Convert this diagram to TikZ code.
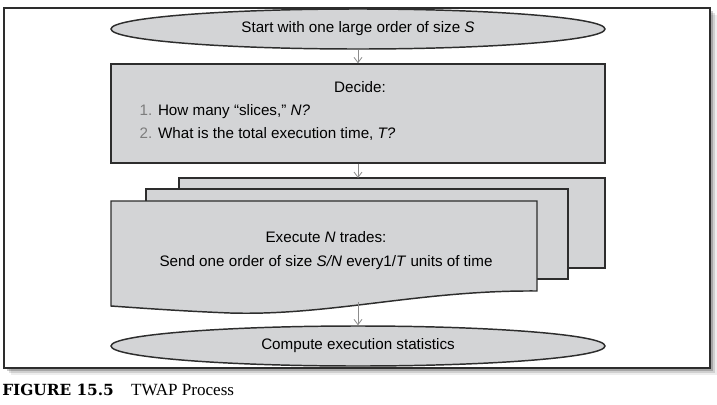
\documentclass[tikz,border=0pt]{standalone}
\usepackage{fontspec}
\setmainfont{Liberation Sans}
\newfontfamily\capserif{Liberation Serif}
\newfontfamily\capbold{DejaVu Serif}[BoldFont={DejaVu Serif Bold}]
\usetikzlibrary{shapes.geometric,arrows.meta}
\definecolor{boxgray}{RGB}{211,212,214}
\definecolor{linegray}{RGB}{45,45,45}
\definecolor{arrowgray}{RGB}{140,140,140}
\definecolor{numgray}{RGB}{125,125,125}

\begin{document}
\begin{tikzpicture}[x=0.75pt,y=-0.75pt,
  oval/.style={ellipse,draw=linegray,line width=1.1pt,fill=boxgray,
    minimum width=370.5pt,minimum height=30pt,inner sep=0pt},
  box/.style={draw=linegray,line width=1.1pt,fill=boxgray},
  flow/.style={draw=arrowgray,line width=0.6pt,-{Straight Barb[length=4pt,width=6pt]}},
  font=\fontsize{11.4}{13}\selectfont]
\useasboundingbox (0,0) rectangle (717,404);
% frame and its shadow
\foreach \d/\o in {7/0.07,5/0.12,3/0.2}
  \fill[black,opacity=\o] (4+\d,8+\d) rectangle (710+\d,368+\d);
\draw[fill=white,draw=linegray,line width=0.9pt] (4,8) rectangle (710,368);

\node[oval] (start) at (358,29) {Start with one large order of size \textit{S}};

\node[box,minimum width=370.5pt,minimum height=74.25pt] (decide) at (358,113.5) {};
\node (dhead) at (360,87) {Decide:};
\node[anchor=base west] (done) at (135,115) {\textcolor{numgray}{1.} How many “slices,” \textit{N?}};
\node[anchor=base west] (dtwo) at (135,138) {\textcolor{numgray}{2.} What is the total execution time, \textit{T?}};

% stacked sheets
\draw[box] (179,178) rectangle (605,268);
\draw[box] (146,189) rectangle (568,279);
\draw[box] (111,201) -- (537,201) -- (537,291)
  .. controls (420,290) and (330,316) .. (230,313)
  .. controls (180,311) and (140,308) .. (111,306) -- cycle;
\coordinate (stack) at (358,178);
\coordinate (fbot) at (358,302);
\node[align=center] (exec) at (326,251)
  {Execute \textit{N} trades:\\[5pt]
   Send one order of size \textit{S/N} every1/\textit{T} units of time};

\node[oval] (stats) at (358,346) {Compute execution statistics};

\draw[flow] (start) -- (decide);
\draw[flow] (decide) -- (stack);
\draw[flow] (fbot) -- (stats);

\node[anchor=base west,inner sep=0pt] (caption) at (2,395)
  {{\fontsize{11.5}{13}\selectfont\capbold\bfseries FIGURE 15.5}\hspace{13pt}{\fontsize{12.8}{14}\selectfont\capserif TWAP Process}};
\end{tikzpicture}
\end{document}
